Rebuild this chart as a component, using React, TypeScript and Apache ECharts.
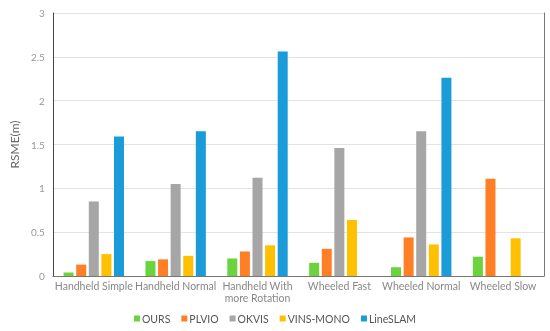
import React, { useEffect, useRef } from "react";
import * as echarts from "echarts";

const categories = [
  "Handheld Simple",
  "Handheld Normal",
  "Handheld With\nmore Rotation",
  "Wheeled Fast",
  "Wheeled Normal",
  "Wheeled Slow",
];
const seriesNames = ["OURS", "PLVIO", "OKVIS", "VINS-MONO", "LineSLAM"];
const ours = [0.04, 0.17, 0.2, 0.15, 0.1, 0.22];
const plvio = [0.13, 0.19, 0.28, 0.31, 0.44, 1.11];
const okvis = [0.85, 1.05, 1.12, 1.46, 1.65, null];
const vinsMono = [0.25, 0.23, 0.35, 0.64, 0.36, 0.43];
const lineSlam = [1.59, 1.65, 2.56, null, 2.26, null];
const colors = ["#6AD33D", "#FF7F27", "#A6A6A6", "#FFC000", "#1B9BD8"];
const yTicks = [0, 0.5, 1, 1.5, 2, 2.5, 3];

export default function App() {
  const ref = useRef<HTMLDivElement>(null);
  useEffect(() => {
    const chart = echarts.init(ref.current!, null, { renderer: "svg" });
    const data = [ours, plvio, okvis, vinsMono, lineSlam];
    const font = "Lato";
    chart.setOption({
      animation: false,
      textStyle: { fontFamily: font },
      grid: { left: 50, right: 6, top: 13, bottom: 55 },
      legend: {
        bottom: 2,
        left: "center",
        itemWidth: 6,
        itemHeight: 6,
        itemGap: 11,
        icon: "rect",
        textStyle: { color: "#555", fontSize: 10.5, fontFamily: font, padding: [0, 0, 0, -3] },
        data: seriesNames,
      },
      xAxis: [
        {
          type: "category",
          data: categories,
          axisLine: { lineStyle: { color: "#d9d9d9" } },
          axisTick: { show: false },
          axisLabel: { interval: 0, color: "#888", fontSize: 10.5, lineHeight: 12, margin: 4, fontFamily: font },
        },
        {
          type: "category",
          position: "top",
          data: categories,
          axisLine: { show: true, lineStyle: { color: "#777" } },
          axisTick: { show: false },
          axisLabel: { show: false },
        },
      ],
      yAxis: [
        {
          type: "value",
          min: 0,
          max: 3,
          interval: 0.5,
          name: "RSME(m)",
          nameLocation: "middle",
          nameGap: 25,
          nameTextStyle: { color: "#666", fontSize: 12, fontFamily: font },
          axisLine: { show: true, lineStyle: { color: "#444" } },
          axisTick: { show: false },
          axisLabel: {
            color: "#999",
            fontSize: 10,
            margin: 8,
            fontFamily: font,
            formatter: (v: number) => (yTicks.includes(v) ? String(v) : ""),
          },
          splitLine: { lineStyle: { color: "#e3e3e3" } },
        },
        {
          type: "value",
          position: "right",
          min: 0,
          max: 3,
          interval: 0.5,
          axisLine: { show: true, lineStyle: { color: "#777" } },
          axisTick: { show: false },
          axisLabel: { show: false },
          splitLine: { show: false },
        },
      ],
      series: seriesNames.map((name, i) => ({
        name,
        type: "bar",
        data: data[i],
        barWidth: 10,
        barGap: "26%",
        itemStyle: { color: colors[i] },
      })),
    });
    return () => chart.dispose();
  }, []);
  return <div ref={ref} style={{ position: "fixed", left: 0, top: 0, width: 550, height: 331 }} />;
}
